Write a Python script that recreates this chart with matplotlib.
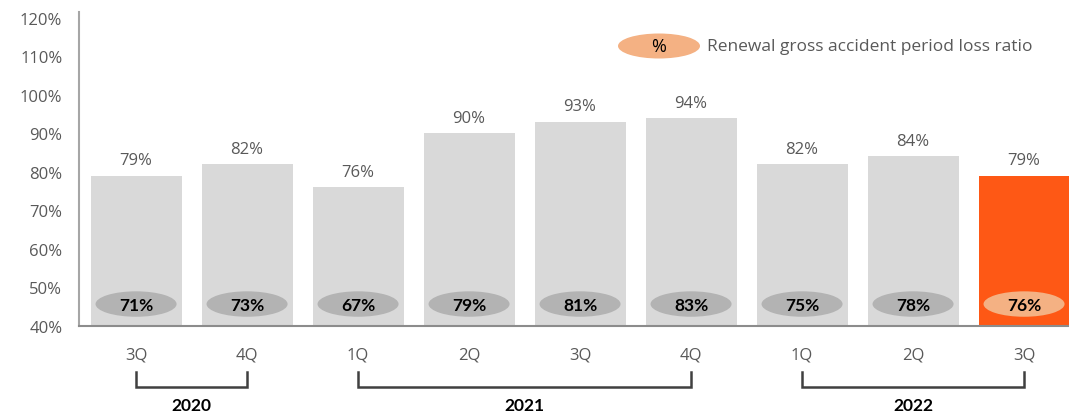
import matplotlib
matplotlib.use("Agg")
import matplotlib.pyplot as plt
from matplotlib.patches import Ellipse
import matplotlib.transforms as mtransforms

plt.rcParams['font.family'] = ['Open Sans', 'DejaVu Sans']
BOLD_FAMILY = ['Lato', 'DejaVu Sans']

quarters = ["3Q", "4Q", "1Q", "2Q", "3Q", "4Q", "1Q", "2Q", "3Q"]
loss_ratio = [79, 82, 76, 90, 93, 94, 82, 84, 79]
renewal_ratio = [71, 73, 67, 79, 81, 83, 75, 78, 76]
years = ["2020", "2021", "2022"]
year_spans = [(0, 1), (2, 5), (6, 8)]
y_ticks = [40, 50, 60, 70, 80, 90, 100, 110, 120]
legend_label = "Renewal gross accident period loss ratio"

grey_bar = "#d9d9d9"
orange_bar = "#fe5815"
grey_ell = "#b3b3b3"
orange_ell = "#f4b183"
text_grey = "#595959"

fig = plt.figure(figsize=(10.69, 4.14), dpi=100)
ax = fig.add_axes([79/1069, (414-327)/414, 990/1069, 314/414])

x = list(range(len(quarters)))
colors = [grey_bar]*(len(quarters)-1) + [orange_bar]
ax.bar(x, [v - 40 for v in loss_ratio], bottom=40, width=0.82, color=colors, zorder=2)

for i, v in enumerate(loss_ratio):
    ax.text(i, v + 1.9, f"{v}%", ha="center", va="bottom", fontsize=12, color=text_grey)

ell_w, ell_h, ell_y = 0.73, 6.6, 45.7
for i, v in enumerate(renewal_ratio):
    fc = orange_ell if i == len(renewal_ratio)-1 else grey_ell
    ax.add_patch(Ellipse((i, ell_y), ell_w, ell_h, facecolor=fc, edgecolor="none", zorder=3))
    ax.text(i, ell_y - 0.2, f"{v}%", ha="center", va="center", fontsize=12.5, fontweight="bold",
            family=BOLD_FAMILY, color="#000000", zorder=4)

ax.set_xlim(-0.514, 8.405)
ax.set_ylim(40, 121.5)
ax.set_yticks(y_ticks)
ax.set_yticklabels([f"{t}%" for t in y_ticks])
ax.set_xticks(x)
ax.set_xticklabels(quarters)
ax.tick_params(axis="both", length=0, colors=text_grey, labelsize=12)
ax.tick_params(axis="x", pad=15)
ax.tick_params(axis="y", pad=12)
for s in ["top", "right"]:
    ax.spines[s].set_visible(False)
ax.spines["left"].set_color("#a6a6a6")
ax.spines["left"].set_linewidth(1.5)
ax.spines["bottom"].set_color("#8c8c8c")
ax.spines["bottom"].set_linewidth(1.5)

trans = mtransforms.blended_transform_factory(ax.transData, ax.transAxes)
for (a, b), yr in zip(year_spans, years):
    ax.plot([a, a, b, b], [-0.146, -0.194, -0.194, -0.146], color="#404040", lw=1.8,
            transform=trans, clip_on=False, solid_joinstyle="miter")
    ax.text((a + b) / 2, -0.252, yr, ha="center", va="center", fontsize=12.5, fontweight="bold",
            family=BOLD_FAMILY, color="#000000", transform=trans)

# legend
lx, ly = (659-79)/990, (327-47)/314
ax.add_patch(Ellipse((lx, ly), 82/990, 25/314, facecolor=orange_ell, edgecolor="none",
                     transform=ax.transAxes, clip_on=False))
ax.text(lx, ly, "%", ha="center", va="center", fontsize=13, color="#000000", transform=ax.transAxes)
ax.text((707-79)/990, ly, legend_label, ha="left", va="center", fontsize=12.5, color=text_grey,
        transform=ax.transAxes)

fig.savefig("out.png", dpi=100)
